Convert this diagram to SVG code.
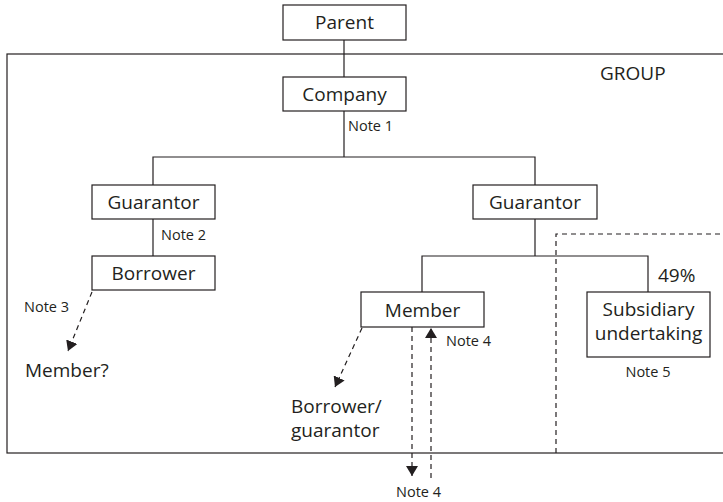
<svg xmlns="http://www.w3.org/2000/svg" width="723" height="502" viewBox="0 0 723 502">
<style>
.box{fill:#fff;stroke:#231f20;stroke-width:1.2}
.ln{fill:none;stroke:#231f20;stroke-width:1.2}
.dash{fill:none;stroke:#231f20;stroke-width:1.2;stroke-dasharray:5,4}
.t{font-family:"Open Sans","Noto Sans",sans-serif;font-size:19px;fill:#231f20}
.s{font-family:"Open Sans","Noto Sans",sans-serif;font-size:14.5px;fill:#231f20}
.m{text-anchor:middle}
</style>
<defs>
<marker id="ah" viewBox="0 0 10 12" refX="10" refY="6" markerWidth="10" markerHeight="12" markerUnits="userSpaceOnUse" orient="auto">
<path d="M0,0 L10,6 L0,12 z" fill="#231f20"/>
</marker>
</defs>
<g id="group-frame">
<rect x="7" y="54" width="730" height="399" class="ln"/>
<text x="600" y="80" class="t">GROUP</text>
</g>
<g id="subsidiary-zone">
<path d="M556,453 V234 H730" class="dash"/>
</g>
<g id="connectors">
<path d="M344,40 V77" class="ln"/>
<path d="M344,111 V157" class="ln"/>
<path d="M153,185 V157 H535 V185" class="ln"/>
<path d="M153,219 V256" class="ln"/>
<path d="M535,219 V256" class="ln"/>
<path d="M422,292 V256 H648 V292" class="ln"/>
<path d="M92,292 L68,351" class="dash" marker-end="url(#ah)"/>
<path d="M362,328 L335,387" class="dash" marker-end="url(#ah)"/>
<path d="M412,327 V476" class="dash" marker-end="url(#ah)"/>
<path d="M431,478 V328" class="dash" marker-end="url(#ah)"/>
</g>
<g id="parent">
<rect x="283" y="5" width="123" height="35" class="box"/>
<text x="344.5" y="29" class="t m">Parent</text>
</g>
<g id="company">
<rect x="283" y="77" width="123" height="34" class="box"/>
<text x="344.5" y="101" class="t m">Company</text>
<text x="348" y="131" class="s">Note 1</text>
</g>
<g id="guarantor-left">
<rect x="92" y="185" width="123" height="34" class="box"/>
<text x="153.5" y="209" class="t m">Guarantor</text>
<text x="161" y="240" class="s">Note 2</text>
</g>
<g id="borrower">
<rect x="92" y="256" width="123" height="34" class="box"/>
<text x="153.5" y="280" class="t m">Borrower</text>
<text x="24" y="312" class="s">Note 3</text>
</g>
<g id="member-q">
<text x="25" y="377" class="t">Member?</text>
</g>
<g id="guarantor-right">
<rect x="473" y="185" width="124" height="34" class="box"/>
<text x="535" y="209" class="t m">Guarantor</text>
</g>
<g id="member">
<rect x="361" y="292" width="123" height="35" class="box"/>
<text x="422.5" y="317" class="t m">Member</text>
<text x="446" y="346" class="s">Note 4</text>
<text x="396" y="497" class="s">Note 4</text>
</g>
<g id="borrower-guarantor">
<text x="291" y="413" class="t">Borrower/</text>
<text x="291" y="437" class="t">guarantor</text>
</g>
<g id="subsidiary">
<rect x="587" y="292" width="123" height="65" class="box"/>
<text x="648.5" y="316" class="t m">Subsidiary</text>
<text x="648.5" y="340" class="t m">undertaking</text>
<text x="658" y="282" class="t">49%</text>
<text x="648" y="377" class="s m">Note 5</text>
</g>
</svg>
